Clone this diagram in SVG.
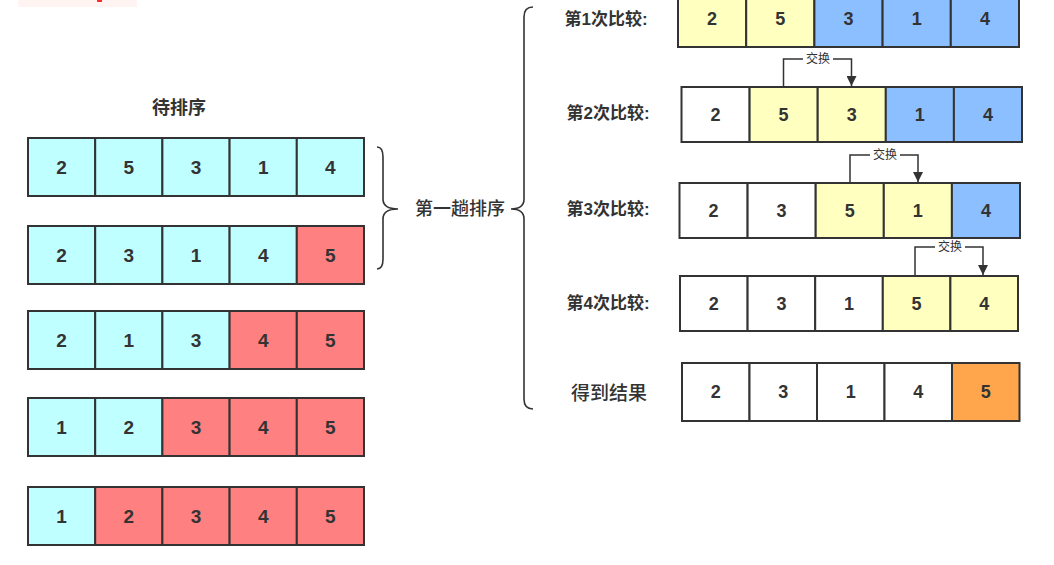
<svg xmlns="http://www.w3.org/2000/svg" width="1054" height="565" viewBox="0 0 1054 565">
<style>
rect.cell{stroke:#333;stroke-width:2}
.c{fill:#c0ffff}.r{fill:#ff8080}.w{fill:#ffffff}.y{fill:#ffffc0}.b{fill:#8cbfff}.o{fill:#ffa64d}
text{font-family:"Liberation Sans","Noto Sans CJK SC",sans-serif;fill:#333;text-anchor:middle;dominant-baseline:central}
.n{font-size:18px;font-weight:bold}
.nl{font-size:19px}
.lbl{font-size:17px;font-weight:bold}
.cap{font-size:17px;font-weight:500}
.sw{font-size:12px}
.br{fill:none;stroke:#333;stroke-width:1.6}
.ln{fill:none;stroke:#333;stroke-width:1.5}
</style>
<defs>
<marker id="ah" viewBox="0 0 10 10" refX="10" refY="5" markerWidth="10" markerHeight="10" markerUnits="userSpaceOnUse" orient="auto"><path d="M0,0 L10,5 L0,10 z" fill="#333"/></marker>
</defs>
<rect x="0" y="0" width="1054" height="565" fill="#ffffff"/>
<rect x="18" y="0" width="119" height="7" fill="#fff4f2"/>
<rect x="97" y="0" width="5" height="2" fill="#ff2a2a"/>

<text x="179" y="108" class="lbl" style="font-size:18px">待排序</text>

<g id="left-row1">
<rect class="cell c" x="28" y="138" width="67.2" height="58"/><rect class="cell c" x="95.2" y="138" width="67.2" height="58"/><rect class="cell c" x="162.4" y="138" width="67.2" height="58"/><rect class="cell c" x="229.6" y="138" width="67.2" height="58"/><rect class="cell c" x="296.8" y="138" width="67.2" height="58"/>
<text class="n nl" x="61.6" y="167">2</text><text class="n nl" x="128.8" y="167">5</text><text class="n nl" x="196" y="167">3</text><text class="n nl" x="263.2" y="167">1</text><text class="n nl" x="330.4" y="167">4</text>
</g>
<g id="left-row2">
<rect class="cell c" x="28" y="226" width="67.2" height="58"/><rect class="cell c" x="95.2" y="226" width="67.2" height="58"/><rect class="cell c" x="162.4" y="226" width="67.2" height="58"/><rect class="cell c" x="229.6" y="226" width="67.2" height="58"/><rect class="cell r" x="296.8" y="226" width="67.2" height="58"/>
<text class="n nl" x="61.6" y="255">2</text><text class="n nl" x="128.8" y="255">3</text><text class="n nl" x="196" y="255">1</text><text class="n nl" x="263.2" y="255">4</text><text class="n nl" x="330.4" y="255">5</text>
</g>
<g id="left-row3">
<rect class="cell c" x="28" y="311" width="67.2" height="58"/><rect class="cell c" x="95.2" y="311" width="67.2" height="58"/><rect class="cell c" x="162.4" y="311" width="67.2" height="58"/><rect class="cell r" x="229.6" y="311" width="67.2" height="58"/><rect class="cell r" x="296.8" y="311" width="67.2" height="58"/>
<text class="n nl" x="61.6" y="340">2</text><text class="n nl" x="128.8" y="340">1</text><text class="n nl" x="196" y="340">3</text><text class="n nl" x="263.2" y="340">4</text><text class="n nl" x="330.4" y="340">5</text>
</g>
<g id="left-row4">
<rect class="cell c" x="28" y="398" width="67.2" height="58"/><rect class="cell c" x="95.2" y="398" width="67.2" height="58"/><rect class="cell r" x="162.4" y="398" width="67.2" height="58"/><rect class="cell r" x="229.6" y="398" width="67.2" height="58"/><rect class="cell r" x="296.8" y="398" width="67.2" height="58"/>
<text class="n nl" x="61.6" y="427">1</text><text class="n nl" x="128.8" y="427">2</text><text class="n nl" x="196" y="427">3</text><text class="n nl" x="263.2" y="427">4</text><text class="n nl" x="330.4" y="427">5</text>
</g>
<g id="left-row5">
<rect class="cell c" x="28" y="487" width="67.2" height="58"/><rect class="cell r" x="95.2" y="487" width="67.2" height="58"/><rect class="cell r" x="162.4" y="487" width="67.2" height="58"/><rect class="cell r" x="229.6" y="487" width="67.2" height="58"/><rect class="cell r" x="296.8" y="487" width="67.2" height="58"/>
<text class="n nl" x="61.6" y="516">1</text><text class="n nl" x="128.8" y="516">2</text><text class="n nl" x="196" y="516">3</text><text class="n nl" x="263.2" y="516">4</text><text class="n nl" x="330.4" y="516">5</text>
</g>

<g id="braces">
<path class="br" d="M377,147 Q383,147 383,157 L383,199 Q383,209 398,209 Q383,209 383,219 L383,259 Q383,269 377,269"/>
<path class="br" d="M533,7 Q524,7 524,17 L524,199 Q524,209 511,209 Q524,209 524,219 L524,399 Q524,409 533,409"/>
</g>
<text id="pass-label" x="460" y="209" class="cap" style="font-size:18px">第一趟排序</text>

<text x="606" y="19" class="lbl">第1次比较:</text>
<text x="608" y="113" class="lbl">第2次比较:</text>
<text x="608" y="209" class="lbl">第3次比较:</text>
<text x="608" y="303" class="lbl">第4次比较:</text>
<text x="609" y="393" class="cap" style="font-size:19px">得到结果</text>

<g id="cmp1">
<rect class="cell y" x="678" y="-11" width="68.2" height="58"/><rect class="cell y" x="746.2" y="-11" width="68.2" height="58"/><rect class="cell b" x="814.4" y="-11" width="68.2" height="58"/><rect class="cell b" x="882.6" y="-11" width="68.2" height="58"/><rect class="cell b" x="950.8" y="-11" width="68.2" height="58"/>
<text class="n" x="712" y="19">2</text><text class="n" x="780.3" y="19">5</text><text class="n" x="848.5" y="19">3</text><text class="n" x="916.7" y="19">1</text><text class="n" x="984.9" y="19">4</text>
</g>
<g id="cmp2">
<rect class="cell w" x="681.5" y="87" width="68.1" height="55"/><rect class="cell y" x="749.6" y="87" width="68.1" height="55"/><rect class="cell y" x="817.7" y="87" width="68.1" height="55"/><rect class="cell b" x="885.8" y="87" width="68.1" height="55"/><rect class="cell b" x="953.9" y="87" width="68.1" height="55"/>
<text class="n" x="715.5" y="114.5">2</text><text class="n" x="783.6" y="114.5">5</text><text class="n" x="851.7" y="114.5">3</text><text class="n" x="919.8" y="114.5">1</text><text class="n" x="987.9" y="114.5">4</text>
</g>
<g id="cmp3">
<rect class="cell w" x="679.5" y="183" width="68.1" height="55"/><rect class="cell w" x="747.6" y="183" width="68.1" height="55"/><rect class="cell y" x="815.7" y="183" width="68.1" height="55"/><rect class="cell y" x="883.8" y="183" width="68.1" height="55"/><rect class="cell b" x="951.9" y="183" width="68.1" height="55"/>
<text class="n" x="713.5" y="210.5">2</text><text class="n" x="781.6" y="210.5">3</text><text class="n" x="849.7" y="210.5">5</text><text class="n" x="917.8" y="210.5">1</text><text class="n" x="985.9" y="210.5">4</text>
</g>
<g id="cmp4">
<rect class="cell w" x="680" y="276" width="67.6" height="55"/><rect class="cell w" x="747.6" y="276" width="67.6" height="55"/><rect class="cell w" x="815.2" y="276" width="67.6" height="55"/><rect class="cell y" x="882.8" y="276" width="67.6" height="55"/><rect class="cell y" x="950.4" y="276" width="67.6" height="55"/>
<text class="n" x="713.8" y="303.5">2</text><text class="n" x="781.4" y="303.5">3</text><text class="n" x="849" y="303.5">1</text><text class="n" x="916.6" y="303.5">5</text><text class="n" x="984.2" y="303.5">4</text>
</g>
<g id="result">
<rect class="cell w" x="682" y="363" width="67.5" height="58"/><rect class="cell w" x="749.5" y="363" width="67.5" height="58"/><rect class="cell w" x="817" y="363" width="67.5" height="58"/><rect class="cell w" x="884.5" y="363" width="67.5" height="58"/><rect class="cell o" x="952" y="363" width="67.5" height="58"/>
<text class="n" x="715.8" y="392">2</text><text class="n" x="783.3" y="392">3</text><text class="n" x="850.8" y="392">1</text><text class="n" x="918.3" y="392">4</text><text class="n" x="985.8" y="392">5</text>
</g>

<g id="connectors">
<path class="ln" d="M783.5,87 L783.5,59 L851.5,59 L851.5,86" marker-end="url(#ah)"/>
<rect x="803" y="51" width="30" height="16" fill="#ffffff"/>
<text class="sw" x="818" y="59">交换</text>
<path class="ln" d="M850,183 L850,155 L918,155 L918,182" marker-end="url(#ah)"/>
<rect x="870" y="147" width="30" height="16" fill="#ffffff"/>
<text class="sw" x="885" y="155">交换</text>
<path class="ln" d="M915,276 L915,247 L983,247 L983,275" marker-end="url(#ah)"/>
<rect x="935" y="239" width="30" height="16" fill="#ffffff"/>
<text class="sw" x="950" y="247">交换</text>
</g>
</svg>
